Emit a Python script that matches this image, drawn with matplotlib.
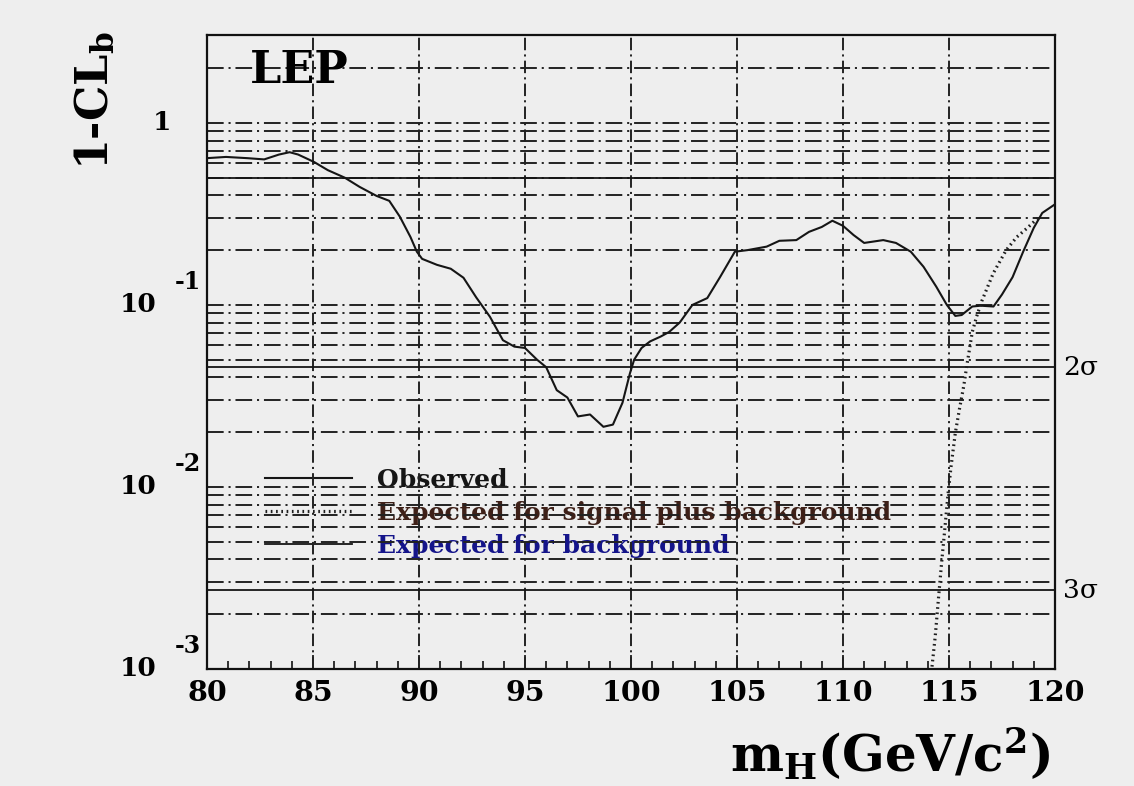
import matplotlib
matplotlib.use('Agg')
import matplotlib.pyplot as plt
import matplotlib.transforms as mtransforms
from matplotlib.ticker import MultipleLocator, NullLocator

# observed 1-CLb versus Higgs mass
obs_mass = [80.0, 80.9, 81.9, 82.7, 83.4, 83.9, 84.3, 85.05, 85.7, 86.5, 87.2, 88.0,
            88.6, 89.1, 89.6, 89.9, 90.15, 90.85, 91.5, 92.1, 92.7, 93.35, 93.96,
            94.5, 95.0, 95.57, 96.0, 96.5, 97.0, 97.5, 98.07, 98.7, 99.15, 99.6,
            99.95, 100.15, 100.5, 100.9, 101.4, 101.8, 102.3, 102.9, 103.6, 104.2,
            104.9, 105.5, 106.4, 107.0, 107.8, 108.4, 109.0, 109.5, 110.0, 110.5,
            111.0, 111.9, 112.5, 113.2, 113.8, 114.4, 114.9, 115.3, 115.6, 116.1,
            116.5, 117.1, 117.5, 118.0, 118.5, 119.0, 119.4, 120.0]
obs_clb = [0.64, 0.65, 0.64, 0.63, 0.67, 0.69, 0.67, 0.61, 0.55, 0.50, 0.445, 0.397,
           0.373, 0.305, 0.236, 0.196, 0.179, 0.166, 0.158, 0.141, 0.110, 0.086, 0.064,
           0.059, 0.058, 0.050, 0.0455, 0.034, 0.031, 0.0244, 0.025, 0.0214, 0.022, 0.029,
           0.042, 0.050, 0.058, 0.063, 0.067, 0.071, 0.080, 0.100, 0.109, 0.142,
           0.196, 0.200, 0.209, 0.225, 0.227, 0.252, 0.268, 0.290, 0.272, 0.242,
           0.219, 0.227, 0.219, 0.196, 0.162, 0.126, 0.100, 0.087, 0.088, 0.098,
           0.099, 0.098, 0.114, 0.142, 0.196, 0.265, 0.320, 0.357]

# expected for signal plus background (mH = 115 GeV)
sb_mass = [114.2, 114.35, 114.5, 114.65, 114.8, 114.95, 115.1, 115.3, 115.5, 115.7,
           115.85, 116.1, 116.3, 116.55, 116.9, 117.1, 117.7, 118.2, 118.7, 119.2]
sb_clb = [0.00103, 0.0015, 0.0024, 0.0038, 0.0058, 0.0090, 0.0130, 0.0198, 0.027, 0.036,
          0.047, 0.071, 0.086, 0.105, 0.132, 0.150, 0.200, 0.236, 0.265, 0.30]

# expected for background only
bkg_mass = [80.0, 120.0]
bkg_clb = [0.5, 0.5]

sigma_levels = [0.0455, 0.0027]
sigma_labels = ['2σ', '3σ']

xtick_vals = [80, 85, 90, 95, 100, 105, 110, 115, 120]
decades = [1, 0.1, 0.01, 0.001]
decade_exp = ['', '-1', '-2', '-3']

legend_labels = ['Observed', 'Expected for signal plus background', 'Expected for background']
legend_colors = ['#151515', '#3e2018', '#14148a']

plt.rcParams['font.family'] = ['DejaVu Serif']
plt.rcParams['mathtext.fontset'] = 'dejavuserif'
plt.rcParams['lines.scale_dashes'] = False

bg = '#eeeeee'
fig = plt.figure(figsize=(11.34, 7.86), dpi=100, facecolor=bg)
ax = fig.add_axes([0.1825, 0.1489, 0.7478, 0.8066])
ax.set_facecolor(bg)
ax.set_yscale('log')
ax.set_xlim(80, 120)
ax.set_ylim(1e-3, 3.04)

# dash-dot grid at every 1..9 x 10^n and every 5 GeV
dashdot = (0, (12, 3.5, 1.5, 3.5))
for n in range(-3, 1):
    for k in range(1, 10):
        v = k * 10.0 ** n
        if 1e-3 < v < 2.5:
            ax.axhline(v, color='#222222', lw=1.4, ls=dashdot, zorder=2)
for m in xtick_vals[1:-1]:
    ax.axvline(m, color='#222222', lw=1.4, ls=(0, (9, 3, 1.5, 3)), zorder=2)

for lev in sigma_levels:
    ax.axhline(lev, color='#151515', lw=1.3, zorder=3)

l_obs, = ax.plot(obs_mass, obs_clb, color='#151515', lw=1.5, zorder=4)
l_sb, = ax.plot(sb_mass, sb_clb, color='#1e1e1e', lw=2.3, ls=(0, (1.2, 2.6)), zorder=4)
l_b, = ax.plot(bkg_mass, bkg_clb, color='#151515', lw=1.3, zorder=3)

for s in ax.spines.values():
    s.set_linewidth(1.6)
    s.set_color('#111111')

ax.xaxis.set_major_locator(MultipleLocator(5))
ax.xaxis.set_minor_locator(MultipleLocator(1))
ax.set_xticks(xtick_vals, labels=[str(v) for v in xtick_vals], fontweight='bold')
ax.tick_params(axis='x', which='major', direction='in', length=10, width=1.2,
               labelsize=20.5, pad=8, color='#111111')
ax.tick_params(axis='x', which='minor', direction='in', length=6, width=1.2, color='#111111')
ax.yaxis.set_major_locator(NullLocator())
ax.yaxis.set_minor_locator(NullLocator())
ax.tick_params(axis='y', which='both', left=False, labelleft=False)

# decade labels on the y axis
trans = mtransforms.blended_transform_factory(ax.transAxes, ax.transData)
raised = mtransforms.offset_copy(trans, fig=fig, y=23, units='dots')
for val, ex in zip(decades, decade_exp):
    if ex == '':
        ax.text(-0.0425, val, '1', transform=trans, ha='right', va='center',
                fontsize=19, fontweight='bold')
    else:
        ax.text(-0.059, val, '10', transform=trans, ha='right', va='center',
                fontsize=19, fontweight='bold')
        ax.text(-0.0377, val, ex, transform=raised, ha='left', va='center',
                fontsize=17, fontweight='bold')

for lev, lab in zip(sigma_levels, sigma_labels):
    ax.text(1.0094, lev, lab, transform=trans, ha='left', va='center', fontsize=19)

ax.text(0.0507, 0.924, 'LEP', transform=ax.transAxes, ha='left', va='baseline',
        fontsize=32, fontweight='bold')

fig.text(95 / 1134, 1 - 100 / 786, r'1-CL$_\mathbf{b}$', rotation=90, ha='center',
         va='center', fontsize=32, fontweight='bold')
fig.text(1050 / 1134, 1 - 772 / 786, r'm$_\mathbf{H}$(GeV/c$^\mathbf{2}$)', ha='right',
         va='baseline', fontsize=36, fontweight='bold')

leg = ax.legend([l_obs, l_sb, l_b], legend_labels, loc='upper left',
                bbox_to_anchor=(0.0684, 0.317), frameon=False,
                prop={'weight': 'bold', 'size': 18}, handlelength=3.5,
                handletextpad=1.0, labelspacing=0.36, borderpad=0, borderaxespad=0,
                labelcolor=legend_colors)
leg.set_zorder(1)

fig.savefig('out.png', dpi=100, facecolor=bg)
